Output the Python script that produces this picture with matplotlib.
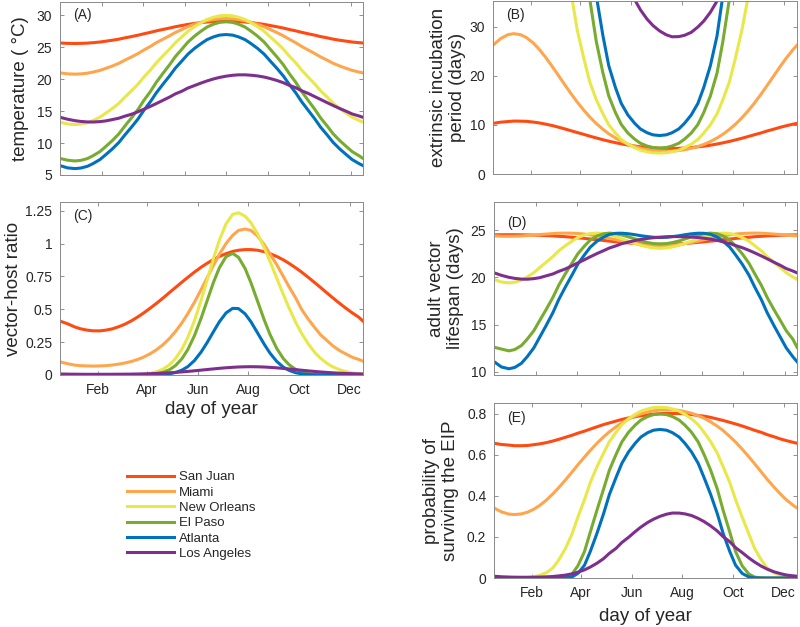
import matplotlib
matplotlib.use('Agg')
import matplotlib.pyplot as plt

plt.rcParams['font.family'] = ['Liberation Sans', 'DejaVu Sans']

# day of year of each sample
days = [0, 9, 18, 25, 33, 40, 48, 55, 63, 71, 78, 86, 94, 101, 109, 116, 124, 132, 139, 147,
        154, 162, 170, 177, 185, 192, 200, 208, 215, 223, 230, 238, 246, 253, 261, 269, 276, 284, 291, 299,
        307, 314, 322, 329, 337, 345, 352, 360, 365]

cities = ['San Juan', 'Miami', 'New Orleans', 'El Paso', 'Atlanta', 'Los Angeles']
colors = ['#ff4a12', '#ffa64d', '#e8e84a', '#77ac30', '#0072bd', '#7e2f8e']

month_days = [46, 105, 166, 227, 288, 349]
month_labels = ['Feb', 'Apr', 'Jun', 'Aug', 'Oct', 'Dec']

# (A) temperature
temp_san_juan = [25.68, 25.62, 25.6, 25.62, 25.66, 25.73, 25.83, 25.96, 26.11, 26.28,
                 26.48, 26.68, 26.9, 27.12, 27.35, 27.58, 27.8, 28.02, 28.23, 28.42,
                 28.59, 28.74, 28.87, 28.97, 29.04, 29.08, 29.1, 29.08, 29.04, 28.97,
                 28.87, 28.74, 28.59, 28.42, 28.23, 28.02, 27.8, 27.58, 27.35, 27.12,
                 26.9, 26.68, 26.48, 26.28, 26.11, 25.96, 25.83, 25.73, 25.68]
temp_miami = [21.0, 20.85, 20.8, 20.84, 20.95, 21.13, 21.38, 21.7, 22.07, 22.5,
              22.98, 23.49, 24.02, 24.58, 25.15, 25.72, 26.28, 26.81, 27.33, 27.8,
              28.23, 28.6, 28.92, 29.17, 29.35, 29.46, 29.5, 29.46, 29.35, 29.17,
              28.92, 28.6, 28.23, 27.8, 27.33, 26.81, 26.28, 25.72, 25.15, 24.58,
              24.02, 23.49, 22.98, 22.5, 22.07, 21.7, 21.38, 21.13, 21.0]
temp_new_orleans = [13.28, 12.99, 12.9, 12.97, 13.19, 13.55, 14.05, 14.67, 15.41, 16.24,
                    17.18, 18.18, 19.24, 20.33, 21.45, 22.57, 23.66, 24.72, 25.73, 26.66,
                    27.5, 28.23, 28.85, 29.35, 29.71, 29.93, 30.0, 29.93, 29.71, 29.35,
                    28.85, 28.23, 27.5, 26.66, 25.73, 24.72, 23.66, 22.57, 21.45, 20.33,
                    19.24, 18.18, 17.18, 16.24, 15.41, 14.67, 14.05, 13.55, 13.28]
temp_el_paso = [7.6, 7.32, 7.2, 7.29, 7.57, 8.03, 8.66, 9.45, 10.39, 11.46,
                12.65, 13.93, 15.28, 16.68, 18.1, 19.52, 20.92, 22.27, 23.55, 24.74,
                25.81, 26.75, 27.54, 28.17, 28.63, 28.91, 29.0, 28.91, 28.63, 28.17,
                27.54, 26.75, 25.81, 24.74, 23.55, 22.27, 20.92, 19.52, 18.1, 16.68,
                15.28, 13.93, 12.65, 11.46, 10.39, 9.45, 8.66, 8.03, 7.6]
temp_atlanta = [6.47, 6.12, 6.0, 6.09, 6.36, 6.8, 7.41, 8.17, 9.08, 10.11,
                11.25, 12.48, 13.78, 15.13, 16.5, 17.87, 19.22, 20.52, 21.75, 22.89,
                23.92, 24.83, 25.59, 26.2, 26.64, 26.91, 27.0, 26.91, 26.64, 26.2,
                25.59, 24.83, 23.92, 22.89, 21.75, 20.52, 19.22, 17.87, 16.5, 15.13,
                13.78, 12.48, 11.25, 10.11, 9.08, 8.17, 7.41, 6.8, 6.47]
temp_los_angeles = [14.04, 13.74, 13.51, 13.39, 13.31, 13.3, 13.36, 13.47, 13.68, 13.9,
                    14.21, 14.51, 14.91, 15.3, 15.76, 16.19, 16.7, 17.21, 17.71, 18.14,
                    18.62, 19.01, 19.41, 19.73, 20.05, 20.28, 20.48, 20.62, 20.69, 20.69,
                    20.63, 20.52, 20.34, 20.12, 19.82, 19.46, 19.06, 18.67, 18.2, 17.78,
                    17.27, 16.83, 16.32, 15.89, 15.41, 14.97, 14.56, 14.25, 14.04]

# (B) extrinsic incubation period (values above the axis top run off the panel)
eip_san_juan = [10.33, 10.57, 10.7, 10.8, 10.78, 10.75, 10.6, 10.44, 10.18, 9.89,
                9.58, 9.21, 8.81, 8.47, 8.09, 7.73, 7.36, 6.99, 6.7, 6.39,
                6.15, 5.91, 5.71, 5.55, 5.43, 5.31, 5.25, 5.2, 5.21, 5.23,
                5.3, 5.39, 5.55, 5.67, 5.88, 6.12, 6.36, 6.66, 6.95, 7.3,
                7.68, 8.02, 8.39, 8.77, 9.14, 9.54, 9.84, 10.16, 10.33]
eip_miami = [26.27, 27.62, 28.43, 28.64, 28.43, 27.85, 26.78, 25.54, 23.85, 21.97,
             20.25, 18.26, 16.32, 14.71, 13.02, 11.67, 10.3, 9.12, 8.21, 7.35,
             6.7, 6.1, 5.61, 5.28, 4.99, 4.81, 4.69, 4.65, 4.68, 4.79,
             4.96, 5.24, 5.61, 6.03, 6.62, 7.35, 8.1, 9.12, 10.15, 11.5,
             13.02, 14.51, 16.32, 18.03, 20.0, 21.98, 23.62, 25.34, 26.27]
eip_new_orleans = [120.8, 128.1, 130.5, 128.6, 123.1, 114.6, 103.8, 91.7, 79.1, 66.9,
                   55.5, 45.4, 36.76, 29.5, 23.61, 18.89, 15.16, 12.27, 10.04, 8.34,
                   7.05, 6.08, 5.37, 4.86, 4.53, 4.33, 4.27, 4.33, 4.53, 4.86,
                   5.37, 6.08, 7.05, 8.34, 10.04, 12.27, 15.16, 18.89, 23.61, 29.5,
                   36.76, 45.4, 55.5, 66.9, 79.1, 91.7, 103.8, 114.6, 120.8]
eip_el_paso = [391, 421, 432, 424, 400, 365, 321, 274, 226, 182,
               143.7, 111, 84.6, 63.8, 47.8, 35.9, 27.05, 20.61, 15.92, 12.53,
               10.1, 8.35, 7.12, 6.27, 5.71, 5.4, 5.3, 5.4, 5.71, 6.27,
               7.12, 8.35, 10.1, 12.53, 15.92, 20.61, 27.05, 35.9, 47.8, 63.8,
               84.6, 111, 143.7, 182, 226, 274, 321, 365, 391]
eip_atlanta = [449, 482, 493, 484, 460, 421, 373, 321, 269, 219,
               175, 137, 106.4, 81.5, 62.2, 47.5, 36.4, 28.2, 22.1, 17.64,
               14.4, 12.04, 10.36, 9.19, 8.42, 7.99, 7.85, 7.99, 8.42, 9.19,
               10.36, 12.04, 14.4, 17.64, 22.1, 28.2, 36.4, 47.5, 62.2, 81.5,
               106.4, 137, 175, 219, 269, 321, 373, 421, 449]
eip_los_angeles = [97.4, 103.2, 107.7, 110.2, 111.7, 111.9, 110.5, 108.5, 104.3, 100.2,
                   94.5, 89.2, 82.8, 77.0, 70.6, 65.1, 59.3, 53.9, 49.0, 45.2,
                   41.4, 38.5, 35.6, 33.5, 31.6, 30.3, 29.2, 28.4, 28.0, 28.03,
                   28.3, 28.9, 30.0, 31.2, 33.0, 35.3, 38.1, 40.9, 44.7, 48.4,
                   53.2, 57.8, 63.6, 69.0, 75.4, 81.9, 88.4, 93.8, 97.4]

# (C) vector-host ratio
vh_san_juan = [0.41, 0.39, 0.365, 0.351, 0.341, 0.336, 0.336, 0.341, 0.351, 0.368,
               0.386, 0.412, 0.443, 0.473, 0.51, 0.544, 0.585, 0.628, 0.665, 0.707,
               0.743, 0.783, 0.82, 0.849, 0.879, 0.902, 0.923, 0.94, 0.949, 0.954,
               0.954, 0.949, 0.938, 0.923, 0.902, 0.876, 0.849, 0.815, 0.783, 0.743,
               0.702, 0.665, 0.622, 0.585, 0.544, 0.505, 0.473, 0.439, 0.41]
vh_miami = [0.1, 0.086, 0.075, 0.071, 0.069, 0.068, 0.069, 0.071, 0.076, 0.083,
            0.091, 0.103, 0.119, 0.137, 0.163, 0.191, 0.23, 0.279, 0.33, 0.398,
            0.467, 0.554, 0.65, 0.737, 0.836, 0.918, 1.0, 1.062, 1.1, 1.11,
            1.1, 1.057, 0.992, 0.92, 0.84, 0.75, 0.67, 0.585, 0.5, 0.425,
            0.36, 0.305, 0.26, 0.22, 0.185, 0.158, 0.135, 0.118, 0.105]
vh_new_orleans = [0.0055, 0.004, 0.003, 0.002, 0.0015, 0.001, 0.0008, 0.0006, 0.0005, 0.0005,
                  0.0007, 0.0014, 0.0032, 0.0063, 0.013, 0.0237, 0.044, 0.0784, 0.124, 0.198,
                  0.286, 0.414, 0.568, 0.716, 0.889, 1.026, 1.15, 1.222, 1.234, 1.208,
                  1.158, 1.074, 0.968, 0.864, 0.738, 0.613, 0.509, 0.4, 0.317, 0.237,
                  0.171, 0.126, 0.087, 0.061, 0.04, 0.025, 0.016, 0.0099, 0.007]
vh_el_paso = [0, 0, 0, 0, 0, 0, 0, 0, 0, 0,
              0.0001, 0.0003, 0.0008, 0.0018, 0.0044, 0.0093, 0.02, 0.0406, 0.071, 0.125,
              0.194, 0.3, 0.432, 0.561, 0.707, 0.816, 0.9, 0.925, 0.895, 0.81,
              0.702, 0.561, 0.419, 0.308, 0.203, 0.125, 0.078, 0.0423, 0.0235, 0.0113,
              0.005, 0.0024, 0.001, 0.0004, 0, 0, 0, 0, 0]
vh_atlanta = [0, 0, 0, 0, 0, 0, 0, 0, 0, 0,
              0, 0, 0.0001, 0.0002, 0.0007, 0.0016, 0.004, 0.0095, 0.0187, 0.0374,
              0.064, 0.11, 0.175, 0.244, 0.331, 0.405, 0.472, 0.507, 0.505, 0.465,
              0.405, 0.32, 0.234, 0.166, 0.104, 0.06, 0.035, 0.017, 0.009, 0.0037,
              0.0014, 0.0006, 0.0002, 0, 0, 0, 0, 0, 0]
vh_los_angeles = [0.0075, 0.0065, 0.006, 0.0055, 0.0051, 0.0052, 0.0052, 0.0054, 0.0056, 0.0059,
                  0.0063, 0.0069, 0.0077, 0.0087, 0.0102, 0.0118, 0.014, 0.0169, 0.0197, 0.0236,
                  0.0273, 0.032, 0.037, 0.0415, 0.0465, 0.0507, 0.055, 0.0585, 0.061, 0.0625,
                  0.063, 0.0624, 0.0606, 0.0581, 0.0545, 0.0501, 0.0459, 0.0408, 0.0363, 0.0314,
                  0.0268, 0.0231, 0.0193, 0.0165, 0.0138, 0.0115, 0.0099, 0.0086, 0.0078]

# (D) adult vector lifespan
life_san_juan = [24.52, 24.53, 24.53, 24.53, 24.52, 24.51, 24.49, 24.47, 24.44, 24.41,
                 24.36, 24.32, 24.26, 24.2, 24.14, 24.07, 24.0, 23.92, 23.85, 23.78,
                 23.72, 23.66, 23.6, 23.56, 23.53, 23.52, 23.51, 23.52, 23.53, 23.56,
                 23.6, 23.66, 23.72, 23.78, 23.85, 23.92, 24.0, 24.07, 24.14, 24.2,
                 24.26, 24.32, 24.36, 24.41, 24.44, 24.47, 24.49, 24.51, 24.52]
life_miami = [24.41, 24.37, 24.36, 24.37, 24.39, 24.44, 24.49, 24.55, 24.6, 24.65,
              24.69, 24.7, 24.69, 24.66, 24.6, 24.51, 24.41, 24.28, 24.14, 24.0,
              23.85, 23.71, 23.58, 23.48, 23.4, 23.35, 23.33, 23.35, 23.4, 23.48,
              23.58, 23.71, 23.85, 24.0, 24.14, 24.28, 24.41, 24.51, 24.6, 24.66,
              24.69, 24.7, 24.69, 24.65, 24.6, 24.55, 24.49, 24.44, 24.41]
life_new_orleans = [19.79, 19.51, 19.42, 19.49, 19.7, 20.05, 20.5, 21.04, 21.62, 22.22,
                    22.82, 23.37, 23.85, 24.23, 24.5, 24.66, 24.7, 24.64, 24.51, 24.32,
                    24.09, 23.85, 23.61, 23.4, 23.23, 23.13, 23.09, 23.13, 23.23, 23.4,
                    23.61, 23.85, 24.09, 24.32, 24.51, 24.64, 24.7, 24.66, 24.5, 24.23,
                    23.85, 23.37, 22.82, 22.22, 21.62, 21.04, 20.5, 20.05, 19.79]
life_el_paso = [12.6, 12.4, 12.21, 12.35, 12.77, 13.45, 14.35, 15.42, 16.62, 17.89,
                19.17, 20.4, 21.52, 22.51, 23.33, 23.96, 24.39, 24.63, 24.7, 24.64,
                24.5, 24.3, 24.08, 23.87, 23.7, 23.59, 23.55, 23.59, 23.7, 23.87,
                24.08, 24.3, 24.5, 24.64, 24.7, 24.63, 24.39, 23.96, 23.33, 22.51,
                21.52, 20.4, 19.17, 17.89, 16.62, 15.42, 14.35, 13.45, 12.6]
life_atlanta = [11.07, 10.5, 10.31, 10.45, 10.89, 11.59, 12.53, 13.65, 14.93, 16.27,
                17.65, 18.99, 20.26, 21.41, 22.4, 23.21, 23.84, 24.28, 24.56, 24.68,
                24.69, 24.63, 24.53, 24.42, 24.33, 24.26, 24.23, 24.26, 24.33, 24.42,
                24.53, 24.63, 24.69, 24.68, 24.56, 24.28, 23.84, 23.21, 22.4, 21.41,
                20.26, 18.99, 17.65, 16.27, 14.93, 13.65, 12.53, 11.59, 11.07]
life_los_angeles = [20.49, 20.22, 20.01, 19.9, 19.82, 19.81, 19.87, 19.97, 20.17, 20.37,
                    20.64, 20.9, 21.23, 21.54, 21.88, 22.19, 22.53, 22.84, 23.12, 23.35,
                    23.58, 23.75, 23.91, 24.03, 24.14, 24.21, 24.27, 24.31, 24.33, 24.33,
                    24.31, 24.28, 24.23, 24.16, 24.06, 23.93, 23.77, 23.6, 23.38, 23.16,
                    22.88, 22.61, 22.28, 21.98, 21.62, 21.28, 20.94, 20.68, 20.49]

# (E) probability of surviving the EIP
surv_san_juan = [0.656, 0.65, 0.647, 0.644, 0.644, 0.645, 0.649, 0.653, 0.659, 0.667,
                 0.675, 0.685, 0.695, 0.705, 0.715, 0.725, 0.736, 0.747, 0.755, 0.764,
                 0.772, 0.779, 0.785, 0.79, 0.794, 0.798, 0.8, 0.802, 0.801, 0.801,
                 0.799, 0.796, 0.791, 0.788, 0.782, 0.774, 0.767, 0.758, 0.75, 0.74,
                 0.729, 0.719, 0.709, 0.698, 0.688, 0.677, 0.669, 0.661, 0.656]
surv_miami = [0.341, 0.322, 0.311, 0.309, 0.312, 0.32, 0.335, 0.353, 0.379, 0.41,
              0.44, 0.477, 0.516, 0.551, 0.589, 0.621, 0.656, 0.687, 0.712, 0.736,
              0.755, 0.773, 0.788, 0.799, 0.808, 0.814, 0.818, 0.82, 0.819, 0.816,
              0.81, 0.802, 0.79, 0.778, 0.76, 0.739, 0.718, 0.689, 0.662, 0.627,
              0.59, 0.556, 0.516, 0.481, 0.444, 0.409, 0.381, 0.355, 0.341]
surv_new_orleans = [0.0022, 0.0014, 0.0012, 0.0014, 0.0019, 0.0033, 0.0063, 0.0128, 0.0257, 0.0492,
                    0.0879, 0.1433, 0.2142, 0.296, 0.3815, 0.4649, 0.5413, 0.6077, 0.6639, 0.7097,
                    0.7462, 0.775, 0.7966, 0.8124, 0.8228, 0.8293, 0.8312, 0.8293, 0.8228, 0.8124,
                    0.7966, 0.775, 0.7462, 0.7097, 0.6639, 0.6077, 0.5413, 0.4649, 0.3815, 0.296,
                    0.2142, 0.1433, 0.0879, 0.0492, 0.0257, 0.0128, 0.0063, 0.0033, 0.0022]
surv_el_paso = [0, 0, 0, 0, 0, 0, 0, 0, 0, 0,
                0.0006, 0.0043, 0.0196, 0.0588, 0.1289, 0.2235, 0.3299, 0.4331, 0.5249, 0.6014,
                0.6622, 0.7092, 0.744, 0.769, 0.7859, 0.7954, 0.7984, 0.7954, 0.7859, 0.769,
                0.744, 0.7092, 0.6622, 0.6014, 0.5249, 0.4331, 0.3299, 0.2235, 0.1289, 0.0588,
                0.0196, 0.0043, 0.0006, 0, 0, 0, 0, 0, 0]
surv_atlanta = [0, 0, 0, 0, 0, 0, 0, 0, 0, 0,
                0.0001, 0.0007, 0.0052, 0.0222, 0.0622, 0.1292, 0.2172, 0.313, 0.4067, 0.4893,
                0.5581, 0.6134, 0.6556, 0.6864, 0.7074, 0.7194, 0.7233, 0.7194, 0.7074, 0.6864,
                0.6556, 0.6134, 0.5581, 0.4893, 0.4067, 0.313, 0.2172, 0.1292, 0.0622, 0.0222,
                0.0052, 0.0007, 0.0001, 0, 0, 0, 0, 0, 0]
surv_los_angeles = [0.0086, 0.0061, 0.0046, 0.0039, 0.0036, 0.0035, 0.0038, 0.0044, 0.0057, 0.0073,
                    0.0103, 0.014, 0.0202, 0.028, 0.0397, 0.0532, 0.0719, 0.0944, 0.1202, 0.1443,
                    0.1727, 0.1977, 0.2256, 0.2481, 0.2701, 0.286, 0.3003, 0.3109, 0.3163, 0.316,
                    0.3122, 0.3041, 0.29, 0.2749, 0.2536, 0.2287, 0.2013, 0.1767, 0.1478, 0.1237,
                    0.0978, 0.0776, 0.0576, 0.0433, 0.0306, 0.0213, 0.0147, 0.0107, 0.0086]

temp = [temp_san_juan, temp_miami, temp_new_orleans, temp_el_paso, temp_atlanta, temp_los_angeles]
eip = [eip_san_juan, eip_miami, eip_new_orleans, eip_el_paso, eip_atlanta, eip_los_angeles]
vh = [vh_san_juan, vh_miami, vh_new_orleans, vh_el_paso, vh_atlanta, vh_los_angeles]
life = [life_san_juan, life_miami, life_new_orleans, life_el_paso, life_atlanta, life_los_angeles]
surv = [surv_san_juan, surv_miami, surv_new_orleans, surv_el_paso, surv_atlanta, surv_los_angeles]

fig = plt.figure(figsize=(8, 6.27), dpi=100)


def add_ax(left, top, right, bottom):
    return fig.add_axes([left / 800, 1 - bottom / 627, (right - left) / 800, (bottom - top) / 627])


def style(ax, ylim, yticks, ylabel, tag, tag_y, label_x, month_ticks=False, show_months=False):
    ax.set_xlim(0, 365)
    ax.set_ylim(*ylim)
    ax.set_yticks(yticks)
    ax.set_yticklabels([f'{t:g}' for t in yticks])
    if month_ticks:
        ax.set_xticks(month_days)
        ax.set_xticklabels(month_labels if show_months else [])
    else:
        ax.set_xticks(range(50, 351, 50))
        ax.set_xticklabels([])
    ax.tick_params(direction='in', top=True, right=True, length=3, width=0.6,
                   color='#7f7f7f', labelsize=10, labelcolor='#262626', pad=5.5)
    for s in ax.spines.values():
        s.set_color('#8a8a8a')
        s.set_linewidth(0.7)
    ax.set_ylabel(ylabel, fontsize=13.5, color='#262626', va='center', linespacing=1.1)
    ax.yaxis.set_label_coords(label_x, 0.5)
    ax.text(0.043, tag_y, tag, transform=ax.transAxes, fontsize=10, color='#262626', va='center')


ax_a = add_ax(60, 2, 363, 175)
ax_c = add_ax(60, 202, 363, 375)
ax_b = add_ax(493, 1, 797, 174)
ax_d = add_ax(494, 202, 797, 375)
ax_e = add_ax(494, 403, 797, 578)

lines = []
for i in range(6):
    ln, = ax_a.plot(days, temp[i], color=colors[i], lw=2.2, label=cities[i])
    lines.append(ln)
    ax_b.plot(days, eip[i], color=colors[i], lw=2.2)
    ax_c.plot(days, vh[i], color=colors[i], lw=2.2)
    ax_d.plot(days, life[i], color=colors[i], lw=2.2)
    ax_e.plot(days, surv[i], color=colors[i], lw=2.2)

style(ax_a, (5, 32.1), [5, 10, 15, 20, 25, 30], 'temperature ( °C)', '(A)', 0.925, -0.13)
style(ax_b, (0, 35.3), [0, 10, 20, 30], 'extrinsic incubation\nperiod (days)', '(B)', 0.92, -0.148,
      month_ticks=True)
style(ax_c, (0, 1.316), [0, 0.25, 0.5, 0.75, 1, 1.25], 'vector-host ratio', '(C)', 0.917, -0.152,
      month_ticks=True, show_months=True)
style(ax_d, (9.65, 28.0), [10, 15, 20, 25], 'adult vector\nlifespan (days)', '(D)', 0.88, -0.158)
style(ax_e, (0, 0.852), [0, 0.2, 0.4, 0.6, 0.8], 'probability of\nsurviving the EIP', '(E)', 0.913, -0.175,
      month_ticks=True, show_months=True)

for ax in (ax_c, ax_e):
    ax.set_xlabel('day of year', fontsize=13.5, color='#262626', va='center')
ax_c.xaxis.set_label_coords(0.5, -0.2)
ax_e.xaxis.set_label_coords(0.5, -0.222)

fig.legend(lines, cities, loc='upper left', bbox_to_anchor=(127 / 800, 1 - 471 / 627),
           frameon=False, fontsize=9.5, handlelength=3.56, handletextpad=0.38,
           labelspacing=0.235, borderpad=0, borderaxespad=0, labelcolor='#262626')

fig.savefig('out.png', dpi=100)
